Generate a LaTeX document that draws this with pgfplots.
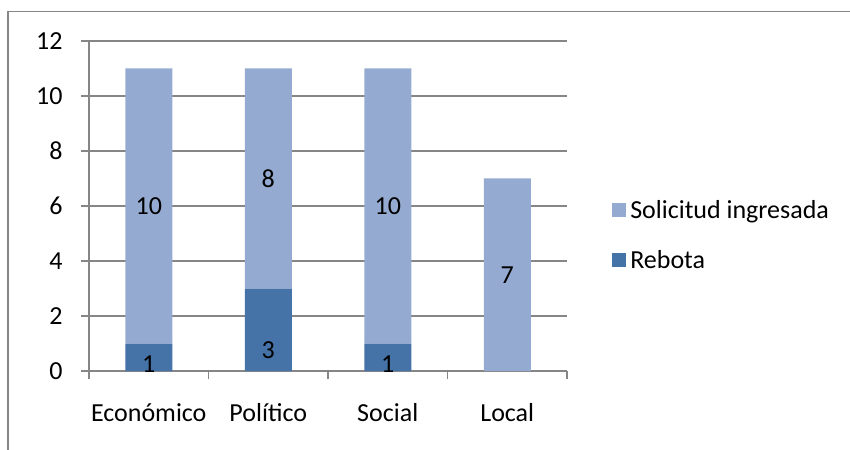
\documentclass[border=0pt]{standalone}
\usepackage{pgfplots}
\pgfplotsset{compat=1.18}
\usepackage{fontspec}
\setmainfont{Carlito}
\definecolor{rebota}{RGB}{69,114,167}
\definecolor{solic}{RGB}{149,170,208}
\definecolor{gridc}{RGB}{134,134,134}
\begin{document}
\begin{tikzpicture}
\begin{axis}[
  scale only axis, width=478bp, height=330bp,
  ybar stacked, bar width=47bp,
  xmin=-0.5, xmax=3.5, ymin=0, ymax=12,
  axis x line*=bottom, axis y line*=left,
  axis line style={gridc, line width=1.2bp},
  xtick={0,1,2,3},
  xticklabels={Económico, Político, Social, Local},
  minor xtick={-0.5,0.5,1.5,2.5,3.5},
  ytick={0,2,...,12},
  ymajorgrids, major grid style={gridc, line width=1.2bp},
  tick style={gridc, line width=1.2bp},
  tick align=outside,
  major tick length=8bp, minor tick length=8bp,
  x tick style={draw=none}, minor x tick style={draw=gridc},
  font=\fontsize{26bp}{31bp}\selectfont,
  /pgf/number format/assume math mode=true,
  yticklabel style={xshift=-15bp},
  xticklabel style={yshift=-21bp},
  visualization depends on=rawy \as \rawy,
  nodes near coords,
  point meta=explicit symbolic,
  reverse legend,
  legend style={draw=none, at={(1.088,0.412)}, anchor=west,
    row sep=27bp, nodes={inner xsep=4bp}},
  legend cell align=left,
  legend image code/.code={\path[#1,draw=none] (0bp,-7bp) rectangle (14bp,7bp);},
]
\addplot[fill=rebota, draw=none,
  every node near coord/.style={anchor=center, yshift={-\rawy*6.875bp}, black}]
  coordinates {(0,1) [1] (1,3) [3] (2,1) [1] (3,0) [{}]};
\addplot[fill=solic, draw=none,
  every node near coord/.style={anchor=center, black}]
  coordinates {(0,10) [10] (1,8) [8] (2,10) [10] (3,7) [7]};
\legend{Rebota, Solicitud ingresada}
\end{axis}
\draw[gridc, line width=1.5bp] (-81bp,-80bp) -- (-81bp,359.5bp) -- (762bp,359.5bp);
\pgfresetboundingbox
\path[use as bounding box] (-89bp,-79bp) rectangle (761bp,371bp);
\end{tikzpicture}
\end{document}
